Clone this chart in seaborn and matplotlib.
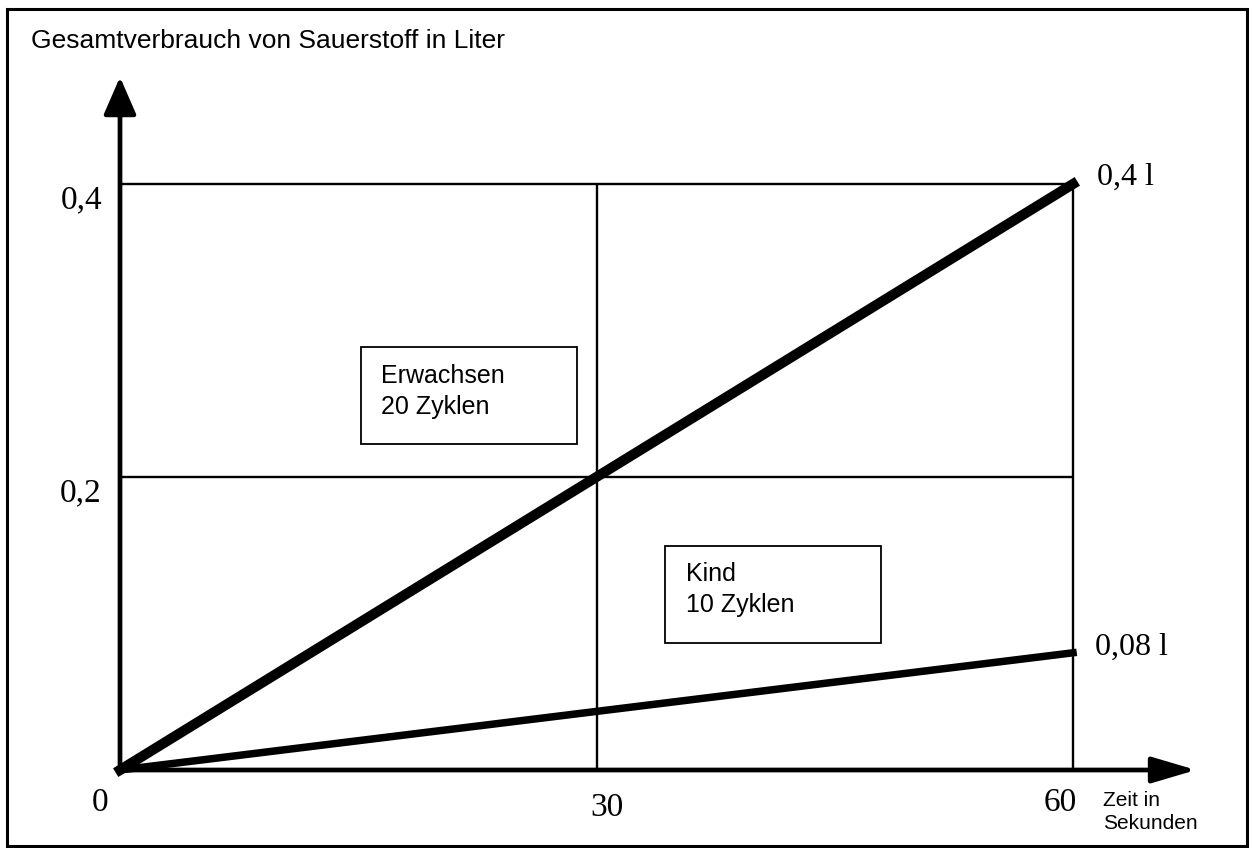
import numpy as np
import pandas as pd
import matplotlib
matplotlib.use("Agg")
import matplotlib.pyplot as plt
import matplotlib.transforms as mtransforms
from matplotlib.patches import Rectangle
import seaborn as sns

# data
zeit = [0, 30, 60]
erwachsen = [0, 0.2, 0.4]
kind = [0, 0.04, 0.08]
gruppen = ["Erwachsen", "Kind"]
x_ticks = [0, 30, 60]
x_tick_labels = ["0", "30", "60"]
y_ticks = [0.2, 0.4]
y_tick_labels = ["0,2", "0,4"]
end_labels = ["0,4 l", "0,08 l"]

df = pd.DataFrame({
    "zeit": zeit * 2,
    "verbrauch": erwachsen + kind,
    "gruppe": [gruppen[0]] * len(zeit) + [gruppen[1]] * len(zeit),
})

sns.set_style("white")
plt.rcParams["font.family"] = ["Liberation Sans", "DejaVu Sans"]
plt.rcParams["text.color"] = "black"
plt.rcParams["xtick.color"] = "black"
plt.rcParams["ytick.color"] = "black"
serif = ["Liberation Serif", "DejaVu Serif"]

fig = plt.figure(figsize=(12.52, 8.48), dpi=100)
W, H = 1252, 848

# axes: origin at pixel (120, 770), 60 s at 1073, 0.4 l at 184
ax = fig.add_axes([120 / W, (H - 770) / H, 1090 / W, 710 / H])
ax.set_xlim(0, 1090 / (953 / 60))
ax.set_ylim(0, 710 / (586 / 0.4))
for s in ax.spines.values():
    s.set_visible(False)

# frame around whole figure
fig.patches.append(Rectangle((7 / W, 1 - 846 / H), 1240 / W, 837 / H,
                             transform=fig.transFigure, fill=False,
                             lw=2.2, ec="black"))

# grid lines
ax.hlines(y_ticks, 0, zeit[-1], color="black", lw=1.7, zorder=1)
ax.vlines(x_ticks[1:], 0, erwachsen[-1], color="black", lw=1.7, zorder=1)

# axis arrows
arrow = dict(arrowstyle="-|>,head_length=23,head_width=10", mutation_scale=1,
             lw=3.4, color="black", shrinkA=0, shrinkB=0)
ax.annotate("", xy=(0, 693 / 710), xytext=(0, 0), xycoords="axes fraction",
            textcoords="axes fraction", arrowprops=arrow, annotation_clip=False)
xarrow = dict(arrow, arrowstyle="-|>,head_length=27,head_width=8")
ax.annotate("", xy=(1076 / 1090, 0), xytext=(0, 0), xycoords="axes fraction",
            textcoords="axes fraction", arrowprops=xarrow, annotation_clip=False)

# the two lines
sns.lineplot(data=df, x="zeit", y="verbrauch", hue="gruppe", size="gruppe",
             sizes={"Erwachsen": 7.3, "Kind": 5.4},
             palette={"Erwachsen": "black", "Kind": "black"},
             legend=False, ax=ax, zorder=3)
for ln in ax.lines:
    ln.set_clip_on(False)
    ln.set_solid_capstyle("projecting")

# ticks
ax.set_xticks(x_ticks)
ax.set_xticklabels(x_tick_labels, family=serif, fontsize=24)
ax.set_yticks(y_ticks)
ax.set_yticklabels(y_tick_labels, family=serif, fontsize=24)
ax.tick_params(axis="x", length=0, pad=11)
ax.tick_params(axis="y", length=0, pad=13)
x_shift = [(-20, -2), (10, -7), (-13, -2)]
for lab, (dx, dy) in zip(ax.get_xticklabels(), x_shift):
    lab.set_transform(lab.get_transform() + mtransforms.ScaledTranslation(
        dx / 100, dy / 100, fig.dpi_scale_trans))
for lab in ax.get_yticklabels():
    lab.set_transform(lab.get_transform() + mtransforms.ScaledTranslation(
        0, -13 / 100, fig.dpi_scale_trans))
ax.set_xlabel("")
ax.set_ylabel("")

# end labels
ax.annotate(end_labels[0], xy=(zeit[-1], erwachsen[-1]), xytext=(17, 5),
            textcoords="offset points", family=serif, fontsize=23,
            va="center", ha="left", annotation_clip=False)
ax.annotate(end_labels[1], xy=(zeit[-1], kind[-1]), xytext=(16, 4),
            textcoords="offset points", family=serif, fontsize=23,
            va="center", ha="left", annotation_clip=False)

# boxes with group info
for (bx, by), txt, (tx, ty) in [((0.2211, 0.4592), "Erwachsen\n20 Zyklen", (0.2394, 0.533)),
                                ((0.5, 0.1789), "Kind\n10 Zyklen", (0.5193, 0.254))]:
    ax.add_patch(Rectangle((bx, by), 0.1982, 0.136, transform=ax.transAxes,
                           fill=True, fc="white", ec="black", lw=1.3, zorder=4))
    ax.text(tx, ty, txt, transform=ax.transAxes, fontsize=18,
            va="center", ha="left", linespacing=1.4, zorder=5)

# titles
fig.text(31 / W, 1 - 48 / H, "Gesamtverbrauch von Sauerstoff in Liter",
         fontsize=19, va="baseline", ha="left")
fig.text(1103 / W, 1 - 791 / H, "Zeit in\nSekunden", fontsize=15,
         va="top", ha="left", linespacing=1.25)

fig.savefig("out.png", dpi=100, facecolor="white")
